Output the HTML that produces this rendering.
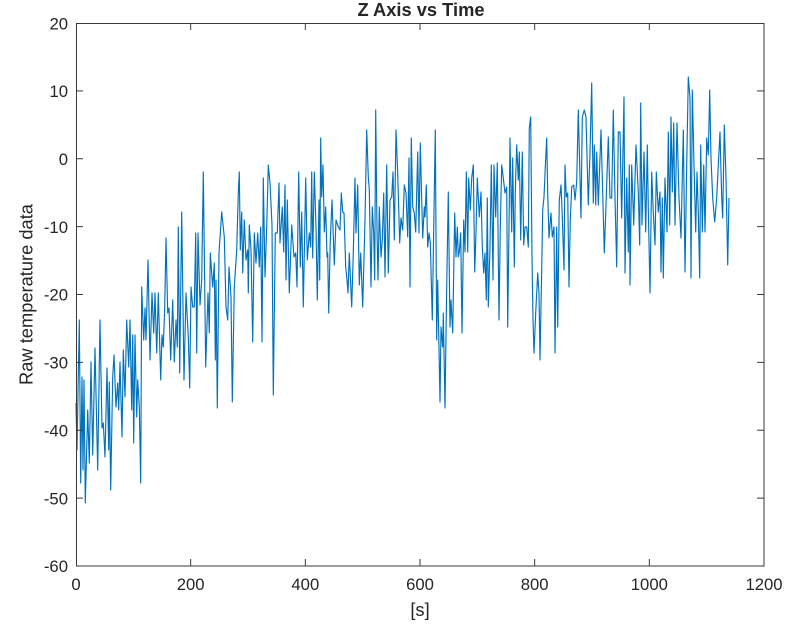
<!DOCTYPE html>
<html>
<head>
<meta charset="utf-8">
<style>
  html, body { margin: 0; padding: 0; background: #ffffff; }
  svg { display: block; }
  text { font-family: "Liberation Sans", Arial, sans-serif; fill: #262626; }
</style>
</head>
<body>
<svg width="801" height="627" viewBox="0 0 801 627" xmlns="http://www.w3.org/2000/svg">
  <rect x="0" y="0" width="801" height="627" fill="#ffffff"/>

  <!-- data -->
  <polyline fill="none" stroke="#0072BD" stroke-width="1.15" stroke-linejoin="round"
    points="76,403 77,450 79.3,320 80.7,483 82,377 83,470 84,380 85.3,503 87.7,410 89.3,463 91,362 92.7,455 95,348 97.7,470 100,320 102,428 103.3,423 105,457 107,368 108.7,450 109.3,382 110.7,490 112.7,377 114,355 116,407 117.7,383 118.7,410 120,362 122,437 123.3,350 125,397 126.7,320 128.7,367 130,320 131.7,410 132.7,335 133.7,443 135,335 136.7,417 137.7,380 139.3,407 140.7,483 141.7,287 143.7,340 145,308 146,340 148,260 150,360 152,293 153.7,333 155,293 156.7,353 158.3,293 160.7,380 162,335 163.3,347 164.7,308 166,238 167.7,313 169,308 170.7,360 172.7,300 174.3,362 176,320
    177.3,347 178.3,227 179.7,373 181.7,212 184,380 186,293 188.3,337 189.7,388 191,287 192.7,307 194.3,307 195.7,233 196.7,353 198,233 200,305 201.7,280 203.3,172 205.7,367 208,293 209.3,333 210.3,253 212.7,287 214.3,263 215.3,360 216,280 217.3,408 219,253 220,238 221.7,212 224.3,237 226,307 227.7,320 229,267 231,297 232.3,402 234.3,287 236.7,250 238.3,193 239.3,172 240.3,250 241.7,212 242.7,273 244.3,220 246,260 247.7,250 248.3,293 249.3,225 251,250 252.7,342 254.3,233 256,263 257.7,233 259.3,267 260.7,227 262,342 263.3,178 265,277 266.7,227 268.3,165 270,183 272,225 273.3,395 275.3,233 277.3,233 279,183 280,243
    282.3,207 283.7,252 285,185 286,280 287.3,200 289.3,293 291.7,225 294,257 295.7,253 297,287 298.7,172 300.3,267 301.7,212 303.3,307 305.7,178 307.3,260 309.3,233 310.7,247 311.7,172 312.7,258 314.3,172 316,227 317.3,300 319,200 319.7,280 320.7,138 321.7,197 323,165 324.3,232 325.7,207 327,257 327.7,253 328.7,313 330.3,240 332,200 334.3,265 336,220 338.3,227 340,230 341.3,193 342.7,212 344,213 345.7,267 347,280 348,293 349.3,253 351.7,307 353.3,253 355,178 356,233 357.7,185 359.3,285 360.7,253 362.7,307 365,220 366.7,130 368.3,177 369.3,190 371,287 372.3,207 373.7,233 374.7,280 375.7,110 377,230 378,280 379.3,207 381,257 382.3,240 383.7,193 385,277 386.7,165 388.3,273 390,200 391.7,197 393,172 394.3,240 396,130 397.7,173 399.7,243 401,218 402.7,230 404.3,185 406,193 407.7,237 409,158 410,287 411.3,138 412.7,207 414.3,213 415.7,232 417.7,152 419,233 420.3,143 421.7,200 422.7,238 424.3,207
    425,217 426.3,185 427.7,247 429,233 430.3,243 432.3,320 433.7,230 435.3,130 436.7,340 437.7,280 440,402 441,327 442.7,347 443.3,313 445,408 446.7,287 448.3,192 450,327 451,300 452.7,333 454.7,213 456,257 457.3,227 458.3,257 459.3,252 460.7,233 462,333 463.7,220 465,252 466.3,172 467.7,252 468.7,178 470.3,210 471.7,178 473.3,165 474.7,272 476,233 477.3,178 479.3,217 481,192 482.3,247 483.7,273 485,253 486.3,300 487.3,198 488.3,307 490,247 491.3,165 493,280 494,165 495.7,217 497.3,163 499,320 500.3,227 501.7,165 503.3,178 505,193 506.7,187 507.7,327 509,227 510,138 511.7,232 512.7,158 514.3,267 515.3,192 516.7,145 518.3,180 519.3,152 520.7,240 522.3,152 523.7,245 525,227 526.7,227 528.3,247 529.3,128 530.7,117 532,257 533,320 534,353 535.7,313 537.7,273 539,293 540,360 541.7,270 542.7,210 544,197 545.3,167 546.7,138 547.7,193 549,238 551,213 552.3,237 554,227 555,353 556.7,227 557.7,327 559.3,200 561,185 562.3,217 564,270 565,165 566.3,197 567.7,193 569,287 570.3,220 571.7,187 573.7,185 575,200
    576.7,182 578.3,110 581,218 582.3,117 584.3,110 586,117 588.3,205 590,152 591.7,83 593.3,203 594.3,145 595.7,205 596.7,152 598.3,205 601,130 602.7,192 604.3,253 606,205 608.3,137 610,198 611.7,198 613.3,110 615,198 616.7,267 618.3,132 620,132 621.7,218 624,97 625,273 626.7,178 628.3,252 629.3,165 630,285 631.7,165 633.7,225 636,145 638.3,192 639.7,245 640.7,103 642,225 644,152 645.7,232 647.3,145 648.3,208 650,293 651.7,172 653.3,212 655,245 656.3,172 658.3,212 660,192 661,272 662.3,198 663.3,278 665,178 667,232 668.3,132 669.7,225 671,117 672.3,192 673.7,123 675,225 677,123 679,198 681,238 683.3,130 685,272 686.7,165 688.3,77 690,98 691,278 692.3,90 694,165 695.7,232 697,172 698.3,212 699.7,278 700.7,145 702.3,232 703.7,165 705,232 706.7,138 708.3,155 709.7,90 711,158 712.7,198 714.7,222 716.7,198 718.3,165 720,132 721.7,198 722.7,218 724.3,125 726,178 727.7,265 729,198"/>

  <!-- axes box -->
  <rect x="76.5" y="23.5" width="687.5" height="542.5" fill="none" stroke="#3a3a3a" stroke-width="1"/>

  <!-- ticks -->
  <g stroke="#3a3a3a" stroke-width="1">
    <!-- y ticks left and right -->
    <line x1="76" y1="90.9" x2="83" y2="90.9"/><line x1="764" y1="90.9" x2="757" y2="90.9"/>
    <line x1="76" y1="158.75" x2="83" y2="158.75"/><line x1="764" y1="158.75" x2="757" y2="158.75"/>
    <line x1="76" y1="226.6" x2="83" y2="226.6"/><line x1="764" y1="226.6" x2="757" y2="226.6"/>
    <line x1="76" y1="294.5" x2="83" y2="294.5"/><line x1="764" y1="294.5" x2="757" y2="294.5"/>
    <line x1="76" y1="362.4" x2="83" y2="362.4"/><line x1="764" y1="362.4" x2="757" y2="362.4"/>
    <line x1="76" y1="430.25" x2="83" y2="430.25"/><line x1="764" y1="430.25" x2="757" y2="430.25"/>
    <line x1="76" y1="498.1" x2="83" y2="498.1"/><line x1="764" y1="498.1" x2="757" y2="498.1"/>
    <!-- x ticks bottom and top -->
    <line x1="190.67" y1="566" x2="190.67" y2="559"/><line x1="190.67" y1="23" x2="190.67" y2="30"/>
    <line x1="305.33" y1="566" x2="305.33" y2="559"/><line x1="305.33" y1="23" x2="305.33" y2="30"/>
    <line x1="420" y1="566" x2="420" y2="559"/><line x1="420" y1="23" x2="420" y2="30"/>
    <line x1="534.67" y1="566" x2="534.67" y2="559"/><line x1="534.67" y1="23" x2="534.67" y2="30"/>
    <line x1="649.33" y1="566" x2="649.33" y2="559"/><line x1="649.33" y1="23" x2="649.33" y2="30"/>
  </g>

  <!-- y tick labels -->
  <g font-size="16.7" text-anchor="end">
    <text x="68" y="29.3">20</text>
    <text x="68" y="97.1">10</text>
    <text x="68" y="165">0</text>
    <text x="68" y="232.8">-10</text>
    <text x="68" y="300.7">-20</text>
    <text x="68" y="368.6">-30</text>
    <text x="68" y="436.4">-40</text>
    <text x="68" y="504.3">-50</text>
    <text x="68" y="572.2">-60</text>
  </g>

  <!-- x tick labels -->
  <g font-size="16.7" text-anchor="middle">
    <text x="76" y="590">0</text>
    <text x="190.67" y="590">200</text>
    <text x="305.33" y="590">400</text>
    <text x="420" y="590">600</text>
    <text x="534.67" y="590">800</text>
    <text x="649.33" y="590">1000</text>
    <text x="764" y="590">1200</text>
  </g>

  <!-- title -->
  <text x="421" y="15.8" font-size="18.3" font-weight="bold" text-anchor="middle" fill="#000000">Z Axis vs Time</text>

  <!-- x label -->
  <text x="420" y="616" font-size="18.3" text-anchor="middle">[s]</text>

  <!-- y label -->
  <text transform="translate(32.5,294.5) rotate(-90)" font-size="18.3" text-anchor="middle">Raw temperature data</text>
</svg>
</body>
</html>
